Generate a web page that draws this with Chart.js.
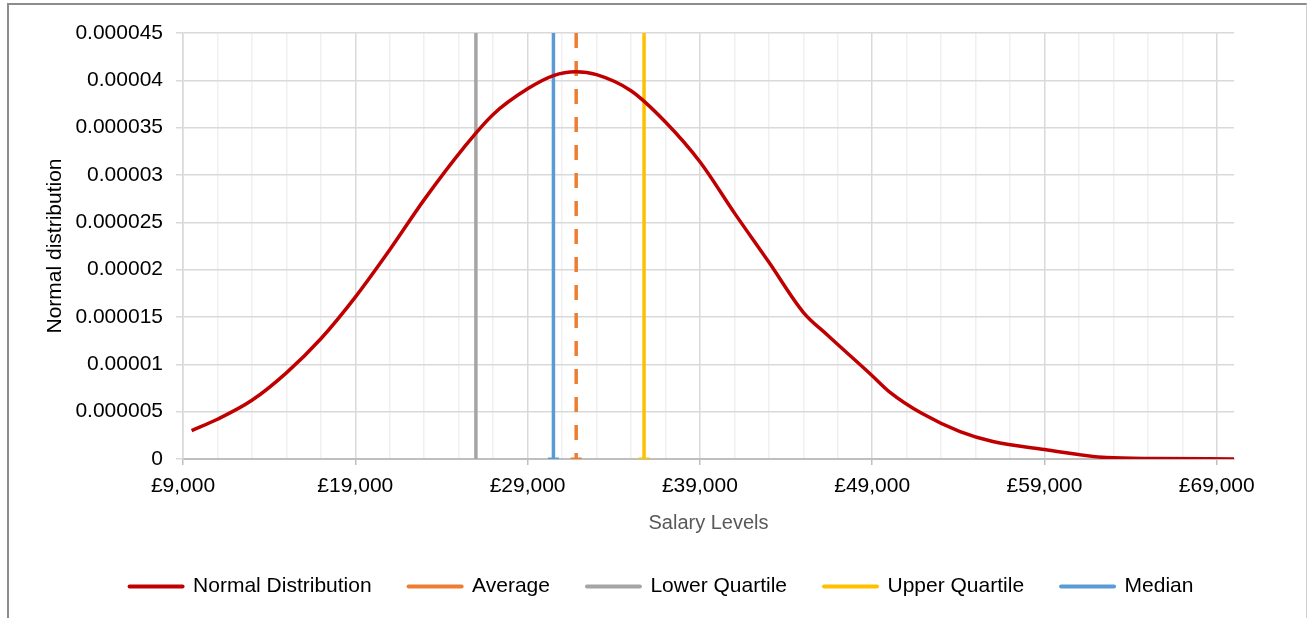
<!DOCTYPE html>
<html>
<head>
<meta charset="utf-8">
<script src="https://cdn.jsdelivr.net/npm/chart.js@4/dist/chart.umd.min.js"></script>
<style>
  html, body { margin: 0; padding: 0; background: #fff; }
  #wrap { position: relative; width: 1307px; height: 618px; overflow: hidden; }
  #frame { position: absolute; left: 7px; top: 3px; width: 1297px; height: 640px;
           border-left: 2px solid #8c8c8c; border-top: 2px solid #8c8c8c; border-right: 1px solid #d0d0d0;
           pointer-events: none; }
</style>
</head>
<body>
<div id="wrap">
  <canvas id="chart" width="1307" height="618"></canvas>
  <div id="frame"></div>
</div>
<script>
// salary (x) and normal distribution density (y)
const salaryPoints = [9500, 11000, 13000, 15000, 17000, 19000, 21000, 23000, 25300, 27000,
                      29000, 30500, 31800, 33000, 35000, 37000, 39000, 41000, 43000,
                      45000, 46400, 49000, 50000, 51900, 54100, 56000, 59000, 62600, 65400, 70000];
const densityValues = [0.0000030, 0.0000042, 0.0000062, 0.0000091, 0.0000127, 0.0000171, 0.0000221, 0.0000274, 0.0000329, 0.0000364,
                       0.0000391, 0.0000405, 0.0000409, 0.0000406, 0.0000389, 0.0000356, 0.0000314, 0.0000260, 0.0000208,
                       0.0000155, 0.0000131, 0.0000088, 0.0000071, 0.0000048, 0.0000029, 0.00000185, 0.0000010, 0.00000015, 0.00000005, 0.00000001];

// summary statistics, drawn as vertical lines
const averageSalary = 31820;
const lowerQuartile = 26000;
const upperQuartile = 35760;
const medianSalary = 30500;
const lineTop = 0.000045;

// axes
const xMin = 9000, xMax = 70000;
const xMajorTicks = [9000, 19000, 29000, 39000, 49000, 59000, 69000];
const xAllTicks = [9000, 11000, 13000, 15000, 17000, 19000, 21000, 23000, 25000, 27000, 29000,
                   31000, 33000, 35000, 37000, 39000, 41000, 43000, 45000, 47000, 49000,
                   51000, 53000, 55000, 57000, 59000, 61000, 63000, 65000, 67000, 69000];
const yMax = 0.000045, yStep = 0.000005;

const FONT = '"Liberation Sans", Arial, sans-serif';
const isMajor = v => xMajorTicks.includes(v);

function vline(label, x, color, dash, cap) {
    return {
        label,
        data: [{ x, y: lineTop }, { x, y: 0 }],
        borderColor: color,
        backgroundColor: color,
        borderWidth: 3.5,
        borderDash: dash,
        pointRadius: cap ? [0, 5.5] : 0,
        pointStyle: "line",
        pointBorderColor: color,
        pointBorderWidth: 3,
        tension: 0,
        fill: false,
    };
}

const datasets = [
    {
        label: "Normal Distribution",
        data: salaryPoints.map((s, i) => ({ x: s, y: densityValues[i] })),
        borderColor: "#c00000",
        backgroundColor: "#c00000",
        borderWidth: 3.5,
        pointRadius: 0,
        cubicInterpolationMode: "monotone",
        fill: false,
    },
    vline("Average", averageSalary, "#ed7d31", [15, 13], true),
    vline("Lower Quartile", lowerQuartile, "#a5a5a5", [], false),
    vline("Upper Quartile", upperQuartile, "#ffc000", [], true),
    vline("Median", medianSalary, "#5b9bd5", [], true),
];

// pin the legend height so the plot lands where the reference has it
const legendHeight = {
    id: "legendHeight",
    beforeInit(chart) {
        const fit = chart.legend.fit;
        chart.legend.fit = function () { fit.call(this); this.height = 79; };
    },
};

new Chart(document.getElementById("chart"), {
    type: "scatter",
    data: { datasets },
    plugins: [legendHeight],
    options: {
        responsive: false,
        animation: false,
        showLine: true,
        layout: { padding: { left: 16, top: 33, right: 0, bottom: 0 } },
        scales: {
            x: {
                type: "linear",
                min: xMin, max: xMax,
                afterBuildTicks: scale => { scale.ticks = xAllTicks.map(v => ({ value: v })); },
                afterFit: scale => { scale.height = 80; },
                ticks: {
                    autoSkip: false, maxRotation: 0, padding: 9,
                    color: "#000",
                    font: { family: FONT, size: 21 },
                    callback: v => isMajor(v) ? "£" + v.toLocaleString("en-GB") : "",
                },
                grid: {
                    color: ctx => ctx.tick && isMajor(ctx.tick.value) ? "#d9d9d9" : "#f0f0f0",
                    lineWidth: 1.5,
                    tickLength: 6,
                    tickColor: ctx => ctx.tick && isMajor(ctx.tick.value) ? "#bfbfbf" : "rgba(0,0,0,0)",
                },
                border: { color: "#bfbfbf", width: 2 },
                title: {
                    display: true, text: "Salary Levels", color: "#595959",
                    font: { family: FONT, size: 20 }, padding: { top: 4, bottom: 4 },
                },
            },
            y: {
                min: 0, max: yMax,
                afterFit: scale => { scale.width = 167; },
                ticks: {
                    stepSize: yStep, padding: 13, color: "#000",
                    font: { family: FONT, size: 21 },
                    callback: v => String(Number(v.toFixed(7))),
                },
                grid: { color: "#d9d9d9", lineWidth: 1.5, tickLength: 7, tickColor: "#d9d9d9" },
                border: { color: "#d9d9d9", width: 1.5 },
                title: {
                    display: true, text: "Normal distribution", color: "#000",
                    font: { family: FONT, size: 21 }, padding: { top: 27, bottom: 0 },
                },
            },
            yRight: {
                position: "right",
                display: true,
                afterFit: scale => { scale.width = 73; },
                ticks: { display: false },
                grid: { display: false, drawTicks: false },
                border: { display: false },
            },
        },
        plugins: {
            legend: {
                position: "bottom",
                labels: {
                    usePointStyle: true,
                    pointStyle: "line",
                    pointStyleWidth: 53,
                    boxHeight: 21,
                    padding: 37,
                    color: "#000",
                    font: { family: FONT, size: 21 },
                    generateLabels(chart) {
                        const items = Chart.defaults.plugins.legend.labels.generateLabels(chart);
                        items.forEach(it => { it.lineDash = []; it.lineWidth = 4; it.lineCap = "round"; it.pointStyle = "line"; });
                        return items;
                    },
                },
            },
            tooltip: { enabled: false },
        },
    },
});
</script>
</body>
</html>
